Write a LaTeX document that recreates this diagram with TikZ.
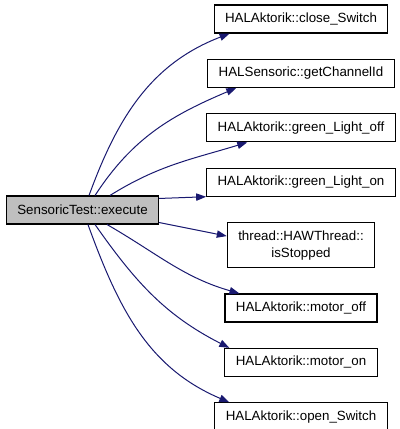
\documentclass[tikz,border=0pt]{standalone}
\usepackage{fontspec}
\setmainfont{Liberation Sans}
\usetikzlibrary{arrows.meta,positioning}
\definecolor{rootgray}{HTML}{BFBFBF}
\definecolor{callblue}{HTML}{191970}
\tikzset{
  fn/.style={rectangle, draw=black, line width=0.8pt, fill=white, minimum height=21pt, inner xsep=8.2pt, inner ysep=2pt, align=center, font=\fontsize{10}{12.75}\selectfont},
  root/.style={fn, fill=rootgray},
  call/.style={-{Triangle[length=7.5pt,width=5.5pt]}, draw=callblue, line width=0.75pt}
}

\begin{document}
\begin{tikzpicture}[x=0.75pt, y=0.75pt, node distance=19pt]
\useasboundingbox (0,0) rectangle (400,-429);
\node[root] (exec) at (82.5,-210) {SensoricTest::execute};
\node[fn] (close) at (301,-19) {HALAktorik::close\_Switch};
\node[fn, below=of close] (chan) {HALSensoric::getChannelId};
\node[fn, below=of chan] (goff) {HALAktorik::green\_Light\_off};
\node[fn, below=of goff] (gon) {HALAktorik::green\_Light\_on};
\node[fn, below=of gon, minimum height=33.75pt] (stop) {thread::HAWThread::\\isStopped};
\node[fn, below=of stop] (moff) {HALAktorik::motor\_off};
\node[fn, below=of moff] (mon) {HALAktorik::motor\_on};
\node[fn, below=of mon] (open) {HALAktorik::open\_Switch};

% calls from execute
\draw[call] ([xshift=4.9pt]exec.north) to[out=70,in=201] ([xshift=12pt]close.south west);
\draw[call] ([xshift=9.4pt]exec.north) to[out=57,in=203] ([xshift=21.75pt]chan.south west);
\draw[call] ([xshift=20.6pt]exec.north) to[out=32,in=197] ([xshift=30.75pt]goff.south west);
\draw[call] ([yshift=-2.25pt]exec.north east) -- (gon.south west);
\draw[call] ([yshift=1.5pt]exec.south east) -- ([yshift=-10.5pt]stop.north west);
\draw[call] ([xshift=18.4pt]exec.south) to[out=-30,in=164] ([xshift=11.25pt]moff.north west);
\draw[call] ([xshift=9.4pt]exec.south) to[out=-55,in=153] ([xshift=3.75pt]mon.north west);
\draw[call] ([xshift=4.1pt]exec.south) to[out=-70,in=157] ([xshift=11.25pt]open.north west);
\end{tikzpicture}
\end{document}
